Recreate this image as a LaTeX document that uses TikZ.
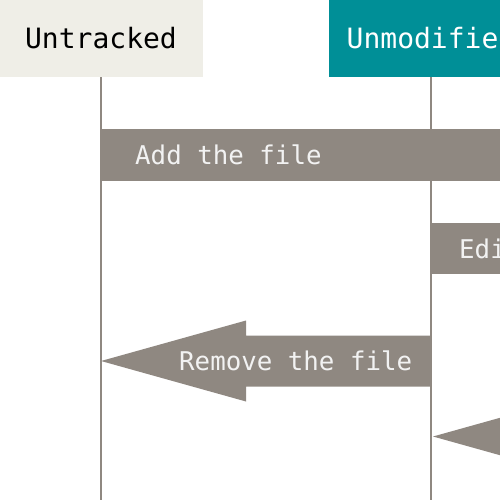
\documentclass[tikz,border=0pt]{standalone}
\usepackage{fontspec}
\setmonofont{DejaVu Sans Mono}
\usepackage{xcolor}
\usepackage{tikz}
\usetikzlibrary{positioning,calc}

\definecolor{untrackedbg}{HTML}{EFEEE7}
\definecolor{unmodifiedbg}{HTML}{008F97}
\definecolor{flowgray}{HTML}{8F8881}

\begin{document}
\begin{tikzpicture}[
    x=1pt, y=-1pt,
    state/.style={rectangle, minimum width=204pt, minimum height=77pt, inner sep=0pt, font=\ttfamily\fontsize{28}{30}\selectfont},
    lifeline/.style={draw=flowgray, line width=2pt},
    flowbar/.style={fill=flowgray},
    flowtext/.style={anchor=west, inner sep=0pt, text=white!95!black, font=\ttfamily\fontsize{25.8}{28}\selectfont}
]
\useasboundingbox (0,0) rectangle (500,500);
\clip (0,0) rectangle (500,500);

% States
\node[state, fill=untrackedbg, text=black] (untracked) at (101,38.5) {Untracked};
\node[state, fill=unmodifiedbg, text=white] (unmodified) at (431,38.5) {Unmodified};

% Lifelines
\coordinate (bottom) at (0,502);
\draw[lifeline] (untracked.south) -- (untracked.south |- bottom);
\draw[lifeline] (unmodified.south) -- (unmodified.south |- bottom);

% Add the file
\coordinate (add) at (untracked.south |- 0,155);
\fill[flowbar] ($(add)+(0,-26)$) rectangle ++(480,52);
\node[flowtext, right=34pt of add] (addtext) {Add the file};

% Edit the file
\coordinate (edit) at (unmodified.south |- 0,248.5);
\fill[flowbar] ($(edit)+(0,-25.5)$) rectangle ++(200,51);
\node[flowtext, right=28pt of edit] (edittext) {Edit the file};

% Remove the file
\coordinate (rmtip) at (untracked.south |- 0,361);
\coordinate (rmtail) at (unmodified.south |- 0,361);
\fill[flowbar] (rmtip) -- ++(145,-40.5) -- ++(0,15) -- ($(rmtail)+(0,-25.5)$)
    -- ($(rmtail)+(0,25.5)$) -- ($(rmtip)+(145,25.5)$) -- ++(0,15) -- cycle;
\node[flowtext] (rmtext) at ($(rmtip)+(78,0)$) {Remove the file};

% Incoming arrow
\coordinate (intip) at ($(unmodified.south |- 0,436.5)+(2,0)$);
\fill[flowbar] (intip) -- ++(145,-40.5) -- ++(0,15) -- ++(200,0)
    -- ++(0,51) -- ++(-200,0) -- ++(0,15) -- cycle;

\end{tikzpicture}
\end{document}
